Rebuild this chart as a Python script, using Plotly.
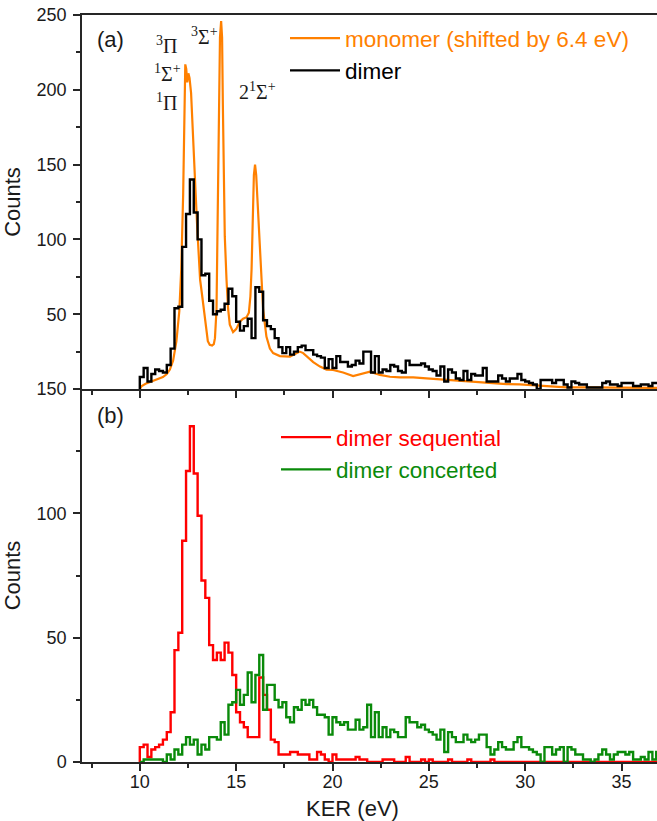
import numpy as np
import plotly.graph_objects as go
from plotly.subplots import make_subplots

# ---------------- data ----------------
BIN_START = 10.0   # eV, first histogram bin
BIN_WIDTH = 0.2    # eV

dimer_counts = [
    8, 14, 5, 10, 13, 12, 11, 16, 27, 54,
    55, 95, 117, 140, 118, 100, 76, 77, 59, 50,
    52, 53, 57, 67, 62, 45, 39, 42, 47, 34,
    68, 65, 46, 42, 40, 34, 28, 24, 28, 23,
    25, 28, 29, 26, 26, 23, 22, 21, 14, 20,
    14, 22, 18, 18, 15, 16, 19, 17, 25, 25,
    11, 22, 11, 13, 12, 16, 15, 12, 11, 19,
    16, 16, 16, 17, 15, 13, 12, 9, 15, 5,
    13, 11, 7, 6, 12, 6, 10, 9, 9, 14,
    5, 5, 5, 9, 7, 5, 7, 7, 10, 6,
    5, 4, 3, 0, 6, 6, 6, 4, 6, 6,
    3, 1, 5, 4, 3, 3, 1, 1, 1, 1,
    4, 5, 3, 3, 2, 4, 4, 4, 2, 2,
    3, 3, 2, 4, 4,
]

sequential_counts = [
    6, 7, 2, 5, 6, 7, 9, 12, 20, 45,
    52, 89, 117, 135, 116, 99, 73, 66, 47, 41,
    44, 41, 48, 44, 35, 20, 16, 14, 10, 10,
    10, 34, 27, 21, 9, 8, 3, 3, 3, 4,
    4, 3, 3, 3, 1, 1, 4, 3, 1, 0,
    3, 1, 1, 1, 1, 1, 2, 1, 1, 0,
    0, 0, 0, 1, 1, 1, 0, 0, 0, 2,
    0, 0, 0, 1, 0, 1, 0, 0, 0, 0,
    1, 0, 0, 0, 0, 1, 0, 0, 0, 0,
    0, 1, 0, 0, 0, 0, 0, 0, 0, 0,
    0, 0, 0, 0, 0, 0, 0, 0, 0, 0,
    0, 0, 0, 0, 0, 0, 0, 0, 0, 0,
    0, 0, 0, 0, 0, 0, 0, 0, 0, 0,
    0, 0, 0, 0, 0,
]

concerted_counts = [
    0, 1, 1, 1, 1, 1, 0, 3, 1, 5,
    3, 7, 10, 7, 9, 3, 7, 5, 10, 10,
    9, 16, 11, 23, 24, 29, 23, 27, 36, 24,
    35, 43, 21, 31, 31, 25, 22, 24, 18, 16,
    22, 21, 25, 23, 25, 22, 19, 19, 18, 11,
    18, 16, 15, 16, 13, 13, 17, 13, 14, 23,
    10, 20, 10, 14, 10, 13, 12, 10, 10, 18,
    16, 16, 14, 15, 13, 12, 11, 9, 13, 4,
    12, 10, 8, 8, 11, 9, 8, 9, 11, 11,
    6, 3, 5, 8, 6, 5, 5, 8, 10, 6,
    6, 5, 4, 3, 0, 6, 6, 3, 5, 6,
    0, 6, 5, 3, 3, 1, 1, 0, 1, 3,
    5, 3, 1, 3, 4, 4, 3, 4, 1, 1,
    2, 1, 4, 1, 4,
]

monomer_ker = [
    10.0, 10.1, 10.3, 10.6, 11.0, 11.2, 11.4, 11.56, 11.73, 11.9,
    12.05, 12.15, 12.25, 12.31, 12.36, 12.41, 12.46, 12.52, 12.58, 12.66,
    12.74, 12.82, 12.9, 12.98, 13.05, 13.13, 13.22, 13.3, 13.43, 13.53,
    13.63, 13.75, 13.84, 13.9, 13.98, 14.04, 14.1, 14.16, 14.22, 14.27,
    14.31, 14.35, 14.41, 14.5, 14.58, 14.67, 14.84, 15.0, 15.19, 15.36,
    15.54, 15.66, 15.74, 15.8, 15.86, 15.92, 15.98, 16.04, 16.1, 16.17,
    16.24, 16.31, 16.4, 16.57, 16.75, 16.92, 17.27, 17.79, 18.13, 18.3,
    18.48, 18.65, 19.0, 19.35, 19.69, 20.03, 20.55, 21.07, 21.42, 21.94,
    22.46, 22.98, 23.5, 24.19, 24.88, 25.57, 26.27, 26.96, 27.65, 28.34,
    29.03, 29.72, 30.41, 31.28, 32.14, 33.18, 33.87, 34.74, 35.6, 36.84,
]
monomer_counts = [
    0, 2, 3.5, 5, 6.5, 8, 10, 13, 19, 32,
    52, 80, 130, 190, 217, 214, 205, 211, 208, 198,
    178, 155, 130, 108, 90, 73, 64, 56, 42, 32,
    29.5, 29, 30, 34, 53, 110, 180, 235, 246, 235,
    190, 140, 102, 73, 54, 43, 38, 40, 45, 47,
    48, 51, 62, 80, 118, 143, 150, 143, 128, 108,
    88, 68, 53, 35, 27, 24, 22, 21.6, 24, 25,
    24, 22, 18, 15, 13, 12.7, 11, 8.7, 10, 11.6,
    9.4, 8.2, 7.8, 7.8, 7.1, 6.5, 5.6, 4.9, 4.2, 3.8,
    3.3, 3.1, 2.5, 1.6, 1.1, 1.1, 1.1, 0.9, 0.9, 0.7,
]

# state labels (text, KER position, counts position) in panel (a)
state_labels = ["<sup>3</sup>Π", "<sup>1</sup>Σ<sup>+</sup>", "<sup>1</sup>Π",
                "<sup>3</sup>Σ<sup>+</sup>", "2<sup>1</sup>Σ<sup>+</sup>"]
state_ker = [11.38, 11.45, 11.4, 13.35, 16.1]
state_counts = [230, 211, 192, 236, 199]

x_tick_vals = [10, 15, 20, 25, 30, 35]
ya_tick_vals = [50, 100, 150, 200, 250]
yb_tick_vals = [0, 50, 100, 150]

# ---------------- styles ----------------
ORANGE = "#ff8000"
BLACK = "#000000"
RED = "#ff0000"
GREEN = "#0a8a0a"
AXIS = "#262626"
SANS = "Liberation Sans, Arial, sans-serif"
SERIF = "Liberation Serif, Times New Roman, serif"


def hist_xy(counts):
    counts = np.asarray(counts, dtype=float)
    edges = BIN_START + BIN_WIDTH * np.arange(len(counts) + 1)
    x = np.concatenate([[edges[0]], edges])
    y = np.concatenate([[0.0], counts, [counts[-1]]])
    return x, y


fig = make_subplots(rows=2, cols=1, shared_xaxes=True, vertical_spacing=0)

fig.add_trace(go.Scatter(x=monomer_ker, y=monomer_counts, mode="lines",
                         line=dict(color=ORANGE, width=2.2),
                         name=f"<span style='color:{ORANGE}'>monomer (shifted by 6.4 eV)</span>",
                         legend="legend"), row=1, col=1)
xd, yd = hist_xy(dimer_counts)
fig.add_trace(go.Scatter(x=xd, y=yd, mode="lines", line=dict(color=BLACK, width=2.4, shape="hv"),
                         name=f"<span style='color:{BLACK}'>dimer</span>", legend="legend"),
              row=1, col=1)
xs, ys = hist_xy(sequential_counts)
fig.add_trace(go.Scatter(x=xs, y=ys, mode="lines", line=dict(color=RED, width=2.4, shape="hv"),
                         name=f"<span style='color:{RED}'>dimer sequential</span>", legend="legend2"),
              row=2, col=1)
xc, yc = hist_xy(concerted_counts)
fig.add_trace(go.Scatter(x=xc, y=yc, mode="lines", line=dict(color=GREEN, width=2.4, shape="hv"),
                         name=f"<span style='color:{GREEN}'>dimer concerted</span>", legend="legend2"),
              row=2, col=1)

H_PLOT = 821 - 15 - 59
split = (762 - 389) / H_PLOT

common_x = dict(range=[7, 36.84], showline=True, linecolor=AXIS, linewidth=1.5,
                ticks="outside", ticklen=7, tickwidth=1.5, tickcolor=AXIS,
                tickvals=x_tick_vals, showgrid=False, zeroline=False,
                minor=dict(tickvals=[7.5, 12.5, 17.5, 22.5, 27.5, 32.5], ticks="outside",
                           ticklen=4, tickwidth=1.5, tickcolor=AXIS),
                tickfont=dict(family=SANS, size=18, color="#1a1a1a"),
                ticklabelstandoff=-4)
fig.update_xaxes(**common_x)
fig.update_xaxes(row=1, col=1, showticklabels=False, mirror=True)
fig.update_xaxes(row=2, col=1, showticklabels=True)

common_y = dict(showline=True, linecolor=AXIS, linewidth=1.5, ticks="outside", ticklen=7,
                tickwidth=1.5, tickcolor=AXIS, showgrid=False, zeroline=False,
                tickfont=dict(family=SANS, size=18, color="#1a1a1a"),
                title=dict(text="Counts", font=dict(family=SANS, size=22, color="#1a1a1a"), standoff=10),
                ticklabelstandoff=3)
fig.update_yaxes(**common_y)
fig.update_yaxes(row=1, col=1, range=[0, 250], tickvals=ya_tick_vals, domain=[split, 1],
                 minor=dict(tickvals=[25, 75, 125, 175, 225], ticks="outside", ticklen=4,
                            tickwidth=1.5, tickcolor=AXIS))
fig.update_yaxes(row=2, col=1, range=[0, 150], tickvals=yb_tick_vals, domain=[0, split],
                 minor=dict(tickvals=[25, 75, 125], ticks="outside", ticklen=4,
                            tickwidth=1.5, tickcolor=AXIS))

def px_x(p):
    return (p - 82) / 575.0

def px_y(p):
    return (762 - p) / H_PLOT

annotations = [
    dict(text="(a)", x=px_x(95), y=px_y(40), xref="paper", yref="paper", xanchor="left",
         yanchor="middle", showarrow=False, font=dict(family=SANS, size=22, color="#1a1a1a")),
    dict(text="(b)", x=px_x(95), y=px_y(415), xref="paper", yref="paper", xanchor="left",
         yanchor="middle", showarrow=False, font=dict(family=SANS, size=22, color="#1a1a1a")),
    dict(text="KER (eV)", x=px_x(352), y=px_y(808), xref="paper", yref="paper", xanchor="center",
         yanchor="middle", showarrow=False, font=dict(family=SANS, size=22, color="#1a1a1a")),
]
for t, kx, cy in zip(state_labels, state_ker, state_counts):
    annotations.append(dict(text=t, x=kx, y=cy, xref="x", yref="y", xanchor="center",
                            yanchor="middle", showarrow=False,
                            font=dict(family=SERIF, size=20, color="#1a1a1a")))

fig.update_layout(
    width=657, height=821,
    margin=dict(l=82, r=0, t=15, b=59),
    paper_bgcolor="white", plot_bgcolor="white",
    font=dict(family=SANS),
    annotations=annotations,
    legend=dict(x=px_x(285), y=px_y(17), xanchor="left", yanchor="top",
                bgcolor="rgba(0,0,0,0)", font=dict(family=SANS, size=22.5), itemwidth=50,
                tracegroupgap=0),
    legend2=dict(x=px_x(276), y=px_y(416), xanchor="left", yanchor="top",
                 bgcolor="rgba(0,0,0,0)", font=dict(family=SANS, size=22.5), itemwidth=50,
                 tracegroupgap=0),
    showlegend=True,
)

fig.write_html("out.html")
